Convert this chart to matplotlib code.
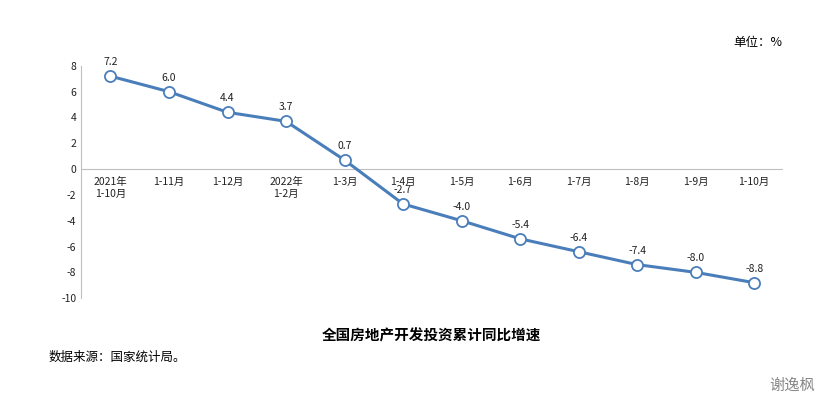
import matplotlib.pyplot as plt

plt.rcParams['font.family'] = ['Noto Sans CJK SC', 'DejaVu Sans']
plt.rcParams['axes.unicode_minus'] = False

categories = ['2021年\n1-10月', '1-11月', '1-12月', '2022年\n1-2月', '1-3月', '1-4月',
              '1-5月', '1-6月', '1-7月', '1-8月', '1-9月', '1-10月']
values = [7.2, 6.0, 4.4, 3.7, 0.7, -2.7, -4.0, -5.4, -6.4, -7.4, -8.0, -8.8]

fig = plt.figure(figsize=(8.29, 4.09), dpi=100)
ax = fig.add_axes([0.098, 0.271, 0.847, 0.568])

x = list(range(len(values)))
ax.plot(x, values, color='#4a7ebb', lw=2.2, marker='o', ms=8,
        markerfacecolor='white', markeredgecolor='#4a7ebb', markeredgewidth=1.3, zorder=3)
for i, v in enumerate(values):
    ax.text(i, v + 0.7, f'{v:.1f}', ha='center', va='bottom', fontsize=7.5, color='#222222')
    ax.text(i, -0.6, categories[i], ha='center', va='top', fontsize=7.5, color='#222222')

ax.axhline(0, color='#bfbfbf', lw=0.8, zorder=1)
ax.set_xlim(-0.5, 11.5)
ax.set_ylim(-10, 8)
ax.set_yticks(range(-10, 9, 2))
ax.tick_params(axis='y', labelsize=7.5, length=0, colors='#222222')
ax.set_xticks([])
for s in ['top', 'right', 'bottom']:
    ax.spines[s].set_visible(False)
ax.spines['left'].set_color('#bfbfbf')

fig.text(0.52, 0.18, '全国房地产开发投资累计同比增速', ha='center', va='center',
         fontsize=10.5, fontweight='bold')
fig.text(0.058, 0.127, '数据来源：国家统计局。', ha='left', va='center', fontsize=9)
fig.text(0.885, 0.897, '单位：%', ha='left', va='center', fontsize=9)
fig.text(0.955, 0.058, '谢逸枫', ha='center', va='center', fontsize=11, color='#888888')

fig.savefig('out.png', dpi=100)
